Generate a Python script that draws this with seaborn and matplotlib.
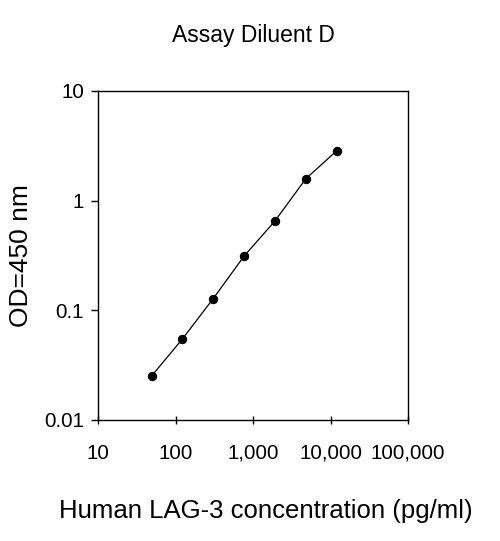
import numpy as np
import pandas as pd
import matplotlib
matplotlib.use("Agg")
import matplotlib.pyplot as plt
import seaborn as sns
from matplotlib.ticker import FixedLocator, FixedFormatter, NullLocator

# standard curve data (2.5-fold dilution series)
conc = [49.2, 122.9, 307.2, 768, 1920, 4800, 12000]
od = [0.0252, 0.0548, 0.128, 0.312, 0.652, 1.58, 2.84]

x_ticks = [10, 100, 1000, 10000, 100000]
x_labels = ["10", "100", "1,000", "10,000", "100,000"]
y_ticks = [0.01, 0.1, 1, 10]
y_labels = ["0.01", "0.1", "1", "10"]

df = pd.DataFrame({"conc": conc, "od": od})

sns.set_style("white")
plt.rcParams["font.family"] = ["Liberation Sans", "DejaVu Sans"]
plt.rcParams["text.color"] = "black"
plt.rcParams["axes.labelcolor"] = "black"

fig = plt.figure(figsize=(5.0, 5.41), dpi=100)
ax = fig.add_axes([0.196, 0.2237, 0.62, 0.6083])

sns.lineplot(data=df, x="conc", y="od", ax=ax, color="black", linewidth=0.9,
             marker="o", markersize=6, markeredgecolor="black", markerfacecolor="black")

ax.set_xscale("log")
ax.set_yscale("log")
ax.set_xlim(10, 100000)
ax.set_ylim(0.01, 10)

ax.xaxis.set_major_locator(FixedLocator(x_ticks))
ax.xaxis.set_major_formatter(FixedFormatter(x_labels))
ax.xaxis.set_minor_locator(NullLocator())
ax.yaxis.set_major_locator(FixedLocator(y_ticks))
ax.yaxis.set_major_formatter(FixedFormatter(y_labels))
ax.yaxis.set_minor_locator(NullLocator())

ax.tick_params(axis="x", direction="inout", length=6, width=1, labelsize=14.8, pad=14, colors="black")
ax.tick_params(axis="y", direction="out", length=5, width=1, labelsize=14.8, pad=5, colors="black")
ax.tick_params(left=True, bottom=True)

for s in ax.spines.values():
    s.set_color("black")
    s.set_linewidth(1.0)

ax.set_xlabel("Human LAG-3 concentration (pg/ml)", fontsize=18.5, labelpad=26, x=0.54, color="black")
ax.set_ylabel("OD=450 nm", fontsize=19, labelpad=8, color="black")
ax.set_title("Assay Diluent D", fontsize=16.5, pad=35, color="black")

fig.savefig("out.png", dpi=100)
